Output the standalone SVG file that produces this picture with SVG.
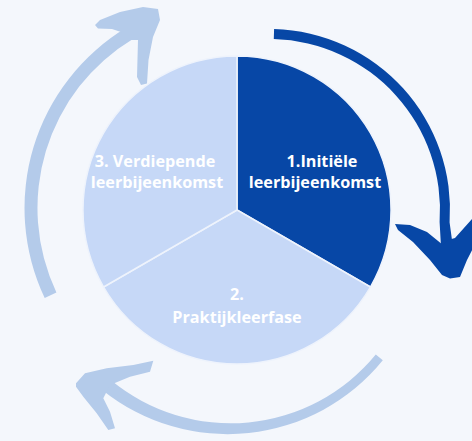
<svg xmlns="http://www.w3.org/2000/svg" width="472" height="441" viewBox="0 0 472 441">
  <style>
    .bg { fill: #f4f7fc; }
    .light { fill: #c6d8f7; stroke: #eef3fc; stroke-width: 1.5; stroke-linejoin: round; }
    .dark { fill: #0747a6; stroke: #eef3fc; stroke-width: 1.5; stroke-linejoin: round; }
    .lbl { font-family: "Open Sans", "Noto Sans", "Liberation Sans", sans-serif; font-weight: 700; font-size: 16.2px; fill: #ffffff; text-anchor: middle; }
    .arr-light { fill: #b4cbea; }
    .arr-dark { fill: #0747a6; }
  </style>
  <rect class="bg" x="0" y="0" width="472" height="441"/>

  <g id="connectors">
    <g id="arrow-1-to-2">
      <path class="arr-dark" d="M274.1,29 A181,181 0 0 1 449.6,222.6 L455,262 L442,264 L439.6,221.9 A171,171 0 0 0 273.8,39.1 Z"/>
      <path class="arr-dark" d="M395,224 L410,225 L427,232 L443,245 L448,240 L455,238 L480,210 L485,225 L467,260 L460,277 L450,278.5 L442,275 L430,260 L413,242 L398,230 Z"/>
    </g>
    <g id="arrow-2-to-3">
      <path class="arr-light" d="M382.8,360.3 A200,200 0 0 1 102.5,390.2 L110.7,380.1 A188,188 0 0 0 375.8,354.6 Z"/>
      <path class="arr-light" d="M76,383.3 L85,373.3 L106.7,368.3 L133.3,365 L153.3,360.7 L150,371.7 L130,376.7 L110,385 L103.3,398.3 L110,411.7 L115,428.3 L108.3,430 L96.7,413.3 L83.3,396.7 L76,386.7 Z"/>
    </g>
    <g id="arrow-3-to-1">
      <path class="arr-light" d="M44.7,298 A210.5,210.5 0 0 1 126.6,27.6 L133.3,38.7 A197.5,197.5 0 0 0 56.4,292.4 Z"/>
      <path class="arr-light" d="M158,9 L143,7 L120,12 L100,20 L95,25 L98,28.5 L112,29 L124,33 L130,40 L138,40 L137,77 L141,85 L147,83.5 L148.5,60 L153,37 L160,20 Z"/>
    </g>
  </g>

  <g id="node-1">
    <path class="dark" d="M237,210 L237,56 A154,154 0 0 1 370.4,287 Z"/>
    <text class="lbl" x="322" y="167">1.Initiële</text>
    <text class="lbl" x="315" y="188">leerbijeenkomst</text>
  </g>
  <g id="node-2">
    <path class="light" d="M237,210 L370.4,287 A154,154 0 0 1 103.6,287 Z"/>
    <text class="lbl" x="237" y="300">2.</text>
    <text class="lbl" x="237" y="323">Praktijkleerfase</text>
  </g>
  <g id="node-3">
    <path class="light" d="M237,210 L103.6,287 A154,154 0 0 1 237,56 Z"/>
    <text class="lbl" x="155" y="167">3. Verdiepende</text>
    <text class="lbl" x="157" y="188">leerbijeenkomst</text>
  </g>
</svg>
